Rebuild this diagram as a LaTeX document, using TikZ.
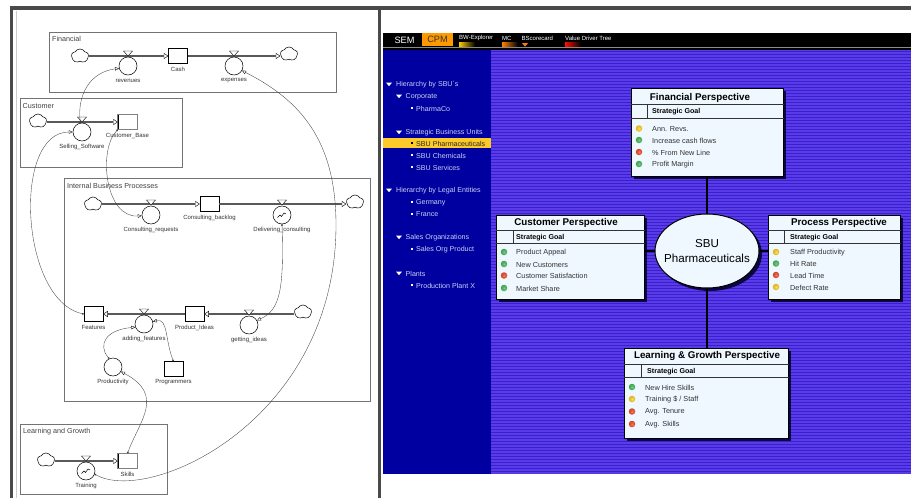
\documentclass[tikz,border=0pt]{standalone}
\usepackage{fontspec}
\setmainfont{Liberation Sans}
\usetikzlibrary{arrows.meta,shapes.geometric,shapes.symbols,shadows}
\definecolor{navblue}{HTML}{0000A0}
\definecolor{stripeA}{HTML}{5A3CE6}
\definecolor{stripeB}{HTML}{3A1ED2}
\definecolor{cardfill}{HTML}{EFF8FF}
\definecolor{framegray}{HTML}{4A4A4A}
\definecolor{goalgreen}{HTML}{45BB5A}
\definecolor{goalyellow}{HTML}{FFD21E}
\definecolor{goalred}{HTML}{F04A28}
\definecolor{navtext}{HTML}{C9D2F2}
\definecolor{tabbar}{HTML}{FF9900}
\tikzset{
  flowtip/.tip={Triangle[fill=white,color=black,line width=.4pt,length=4.5pt,width=6pt]},
  linktip/.tip={Triangle[fill=white,color=black,line width=.35pt,length=4pt,width=3.5pt]},
  group/.style={draw=black!55,line width=.8pt,inner sep=0},
  grouptext/.style={anchor=west,inner sep=0,text=black!75,font=\fontsize{7.2}{8}\selectfont},
  lab/.style={inner sep=0,text=black!80,font=\fontsize{6}{7}\selectfont},
  stock/.style={draw,fill=white,line width=.5pt,minimum width=19,minimum height=15,inner sep=0},
  aux/.style={circle,draw,fill=white,line width=.5pt,minimum size=18,inner sep=0},
  graphaux/.style={aux,path picture={\draw[line width=.5pt] (path picture bounding box.center)
      ++(-4.5,2.5) -- ++(2.5,-2.5) -- ++(1.5,1.5) -- ++(2.5,-3.5) -- ++(2,1);}},
  valve/.style={isosceles triangle,isosceles triangle stretches,shape border rotate=-90,draw,fill=white,
      line width=.4pt,minimum width=9,minimum height=5,inner sep=0},
  puff/.style={cloud,cloud puffs=5,cloud puff arc=120,aspect=1.1,draw,fill=white,line width=.5pt,minimum width=17,minimum height=14,inner sep=0},
  flow/.style={draw=black!65,line width=1.7pt,-flowtip},
  link/.style={draw=black!75,line width=.35pt,{Circle[length=1.8pt]}-linktip},
  tab/.style={inner sep=0,font=\fontsize{9.2}{10}\selectfont},
  tabsmall/.style={anchor=west,inner sep=0,text=white,font=\fontsize{6}{7}\selectfont},
  tabmark/.style={minimum width=16,minimum height=4,inner sep=0,right color=black},
  navitem/.style={anchor=west,inner sep=0,yshift=-.5pt,text=navtext,font=\fontsize{7.1}{8}\selectfont},
  navtri/.style={isosceles triangle,isosceles triangle stretches,shape border rotate=-90,fill=white,
      minimum width=6,minimum height=3.5,inner sep=0},
  navdot/.style={fill=white,minimum size=1.6,inner sep=0},
  card/.style={draw=black,fill=cardfill,line width=1pt,inner sep=0,
      drop shadow={shadow xshift=3pt,shadow yshift=-3pt,fill=black!85!blue,opacity=.85}},
  rule/.style={draw=black!80,line width=.7pt},
  cardtitle/.style={inner sep=0,yshift=-.5pt,font=\fontsize{9.8}{11}\selectfont\bfseries},
  goaltext/.style={anchor=west,inner sep=0,yshift=-.5pt,font=\fontsize{7.1}{8}\selectfont\bfseries},
  itemtext/.style={anchor=west,inner sep=0,yshift=-.5pt,text=black!80,font=\fontsize{7.3}{8}\selectfont},
  light/.style={circle,minimum size=6.5,inner sep=0,shading=radial,inner color=#1!75,outer color=#1!85!black},
  spoke/.style={draw=black,line width=2pt},
}
\begin{document}
\begin{tikzpicture}[x=1pt,y=-1pt]
  \useasboundingbox (0,0) rectangle (911,498);
  \fill[white] (0,0) rectangle (911,498);

  % window frame
  \fill[framegray] (9.5,6) rectangle (911,9.5);
  \fill[framegray] (9.5,6) rectangle (12.5,498);
  \fill[framegray] (377.5,6) rectangle (381,498);
  \draw[black!20,line width=1pt] (16.5,11) -- (16.5,498);

  % model groups
  \node[group,minimum width=287,minimum height=60] (financial) at (192.5,62) {};
  \node[group,minimum width=162,minimum height=69] (customer) at (101,132.5) {};
  \node[group,minimum width=306,minimum height=223] (internal) at (217,289.5) {};
  \node[group,minimum width=147,minimum height=70] (learning) at (93.5,459) {};
  \node[grouptext] (financial-t) at (52,39) {Financial};
  \node[grouptext] (customer-t) at (22.5,106.5) {Customer};
  \node[grouptext] (internal-t) at (67,186) {Internal Business Processes};
  \node[grouptext] (learning-t) at (23,432) {Learning and Growth};

  \foreach \n/\x/\y in {c1/80/56,c2/289/54,c3/38/121,c4/93/204,c5/355/202,c6/303/312,c7/46/460}
    \node[puff] (\n) at (\x,\y) {};

  \foreach \n/\x/\y/\t in {Cash/178/56/Cash,CustomerBase/127.5/122/Customer\_Base,
      ConsultingBacklog/209.5/204/Consulting\_backlog,Features/93.5/314/Features,
      ProductIdeas/194.5/314/Product\_Ideas,Programmers/173.5/369/Programmers,Skills/127.5/461/Skills}{
    \node[stock] (\n) at (\x,\y) {};
    \node[lab] (\n-l) at (\x,\y+13.5) {\t};
  }
  \draw[black!50,line width=.8pt] (CustomerBase.north west) rectangle (CustomerBase.south east);
  \draw[black!50,line width=.8pt] (Skills.north west) rectangle (Skills.south east);

  \draw[flow] (Cash -| c1.east) -- (Cash);
  \draw[flow] (Cash) -- (Cash -| c2.west);
  \draw[flow] (CustomerBase -| c3.east) -- (CustomerBase);
  \draw[flow] (ConsultingBacklog -| c4.east) -- (ConsultingBacklog);
  \draw[flow] (ConsultingBacklog) -- (ConsultingBacklog -| c5.west);
  \draw[flow] (ProductIdeas) -- (Features);
  \draw[flow] (ProductIdeas -| c6.west) -- (ProductIdeas);
  \draw[flow] (Skills -| c7.east) -- (Skills);

  \foreach \n/\s/\x/\y/\t in {Revenues/aux/128/66/revenues,Expenses/aux/234/66/expenses,
      Selling/aux/82/132/Selling\_Software,Requests/aux/151/215/Consulting\_requests,
      Delivering/graphaux/282/215/Delivering\_consulting,Adding/aux/144/324/adding\_features,
      Getting/aux/249/325/getting\_ideas,Productivity/aux/113/367/Productivity,
      Training/graphaux/86/471/Training}{
    \node[\s] (\n) at (\x,\y) {};
    \node[lab] (\n-l) at (\x,\y+15) {\t};
    \ifnum\y>350 \else \node[valve] (\n-v) at (\x,\y-13) {}; \fi
  }
  \node[valve] (Training-v) at (86,458) {};

  \draw[link] (Selling.100) .. controls (77,95) and (90,72) .. (Revenues.195);
  \draw[link] (CustomerBase.south west) .. controls (98,150) and (105,218) .. (Requests.185);
  \draw[link] (Features.west) .. controls (20,300) and (12,132) .. (Selling.west);
  \draw[link] (Delivering.south) .. controls (284,290) and (280,310) .. (Getting.30);
  \draw[link] (Productivity.115) .. controls (98,345) and (105,330) .. (Adding.200);
  \draw[link] (Programmers.north) .. controls (165,340) and (168,318) .. (Adding.15);
  \draw[link] (Skills.north) .. controls (140,420) and (165,395) .. (Productivity.-30);
  \coordinate (bend) at (336,225);
  \draw[link] (Training.-20) .. controls (150,505) and (336,420) .. (bend)
    .. controls (336,140) and (300,100) .. (Expenses.-30);

  % dashboard
  \fill[black] (383,33) rectangle (911,50);
  \fill[black!45] (383,46.5) rectangle (911,47.5);
  \fill[navblue] (383,50) rectangle (491,474);
  \fill[stripeA] (491,50) rectangle (911,474);
  \foreach \y in {51,54,...,471}
    \fill[stripeB] (491,\y) rectangle (911,\y+1.2);

  \node[minimum width=31,minimum height=13,inner sep=0,fill=tabbar] (cpmtab) at (437.5,39.5) {};
  \node[tab,text=white] (sem) at (404.5,40) {SEM};
  \node[tab,text=black!80] (cpm) at (cpmtab) {CPM};
  \node[tabsmall] (bw) at (459,38) {BW-Explorer};
  \node[tabsmall] (mc) at (502,38) {MC};
  \node[tabsmall] (bsc) at (521.5,38) {BScorecard};
  \node[tabsmall] (vdt) at (565,38) {Value Driver Tree};
  \node[tabmark,left color=yellow!60!orange] (bw-m) at (467,44) {};
  \node[tabmark,left color=orange] (mc-m) at (510,44) {};
  \node[tabmark,left color=red!90!orange] (vdt-m) at (573,44) {};
  \node[navtri,fill=orange] (bsc-m) at (525,44.5) {};

  \node[minimum width=108,minimum height=9.5,inner sep=0,fill=yellow!55!orange!85] (navband) at (437,143) {};
  \foreach \n/\y/\t in {navA/84/{Hierarchy by SBU´s},navB/190/Hierarchy by Legal Entities}{
    \node[navtri] (\n-m) at (389,\y) {};
    \node[navitem] (\n) at (396,\y) {\t};
  }
  \foreach \n/\y/\t in {navC/96/Corporate,navD/132/Strategic Business Units,navE/237/Sales Organizations,navF/273/Plants}{
    \node[navtri] (\n-m) at (399,\y) {};
    \node[navitem] (\n) at (405.5,\y) {\t};
  }
  \foreach \n/\y/\t in {navG/108/PharmaCo,navH/155/SBU Chemicals,navI/167/SBU Services,navJ/202/Germany,
      navK/214/France,navL/249/Sales Org Product,navM/285/Production Plant X}{
    \node[navdot] (\n-m) at (412,\y) {};
    \node[navitem] (\n) at (416,\y) {\t};
  }
  \node[navdot,fill=black] (navS-m) at (412,143) {};
  \node[navitem,text=black!85] (navS) at (416,143) {SBU Pharmaceuticals};

  % perspective cards
  \node[card,minimum width=152,minimum height=88] (cardF) at (707,132) {};
  \node[card,minimum width=132,minimum height=84] (cardP) at (834,257) {};
  \node[card,minimum width=148,minimum height=84] (cardC) at (570,257) {};
  \node[card,minimum width=164,minimum height=90] (cardL) at (706,393) {};
  \node[ellipse,draw=black,fill=cardfill,line width=1pt,minimum width=104,minimum height=74,inner sep=0,
      drop shadow={shadow xshift=3pt,shadow yshift=-3pt,fill=black!85!blue,opacity=.85}] (hub) at (707,251) {};
  \node[align=center,inner sep=0,font=\fontsize{11.6}{15}\selectfont] (hub-t) at (hub) {SBU\\Pharmaceuticals};

  \draw[spoke] (hub.north) -- (cardF.south);
  \draw[spoke] (hub.west) -- (hub.west -| cardC.east);
  \draw[spoke] (hub.east) -- (hub.east -| cardP.west);
  \draw[spoke] (hub.south) -- (hub.south |- cardL.north);

  \foreach \n/\a/\b/\v/\g/\tx/\ty/\t in {cardF/104/118/647/652/700/97/Financial Perspective,
      cardP/230/243/784/790/839/222.5/Process Perspective,
      cardC/230/243/513/516/566/222.5/Customer Perspective,
      cardL/364/377/641/647/707/355.5/Learning \& Growth Perspective}{
    \draw[rule] (\n.west |- 0,\a) -- (\n.east |- 0,\a);
    \draw[rule] (\n.west |- 0,\b) -- (\n.east |- 0,\b);
    \draw[rule] (\v,\a) -- (\v,\b);
    \node[cardtitle] (\n-t) at (\tx,\ty) {\t};
    \node[goaltext] (\n-g) at (\g,\a+7) {Strategic Goal};
  }

  \foreach \n/\y/\c/\t in {fa/128.5/goalyellow/Ann. Revs.,fb/140/goalgreen/Increase cash flows,
      fc/152/goalred/\% From New Line,fd/164/goalgreen/Profit Margin}{
    \node[light=\c] (\n-m) at (639,\y) {};
    \node[itemtext] (\n) at (652,\y) {\t};
  }
  \foreach \n/\y/\c/\t in {pa/252/goalyellow/Staff Productivity,pb/263.5/goalgreen/Hit Rate,
      pc/275/goalred/Lead Time,pd/287/goalyellow/Defect Rate}{
    \node[light=\c] (\n-m) at (776,\y) {};
    \node[itemtext] (\n) at (790,\y) {\t};
  }
  \foreach \n/\y/\c/\t in {ca/252/goalgreen/Product Appeal,cb/264/goalgreen/New Customers,
      cc/275.5/goalred/Customer Satisfaction,cd/288/goalgreen/Market Share}{
    \node[light=\c] (\n-m) at (504,\y) {};
    \node[itemtext] (\n) at (516,\y) {\t};
  }
  \foreach \n/\y/\c/\t in {la/387/goalgreen/New Hire Skills,lb/399/goalyellow/{Training \$ / Staff},
      lc/411.5/goalred/Avg. Tenure,ld/424/goalred/Avg. Skills}{
    \node[light=\c] (\n-m) at (632,\y) {};
    \node[itemtext] (\n) at (645,\y) {\t};
  }
\end{tikzpicture}
\end{document}
